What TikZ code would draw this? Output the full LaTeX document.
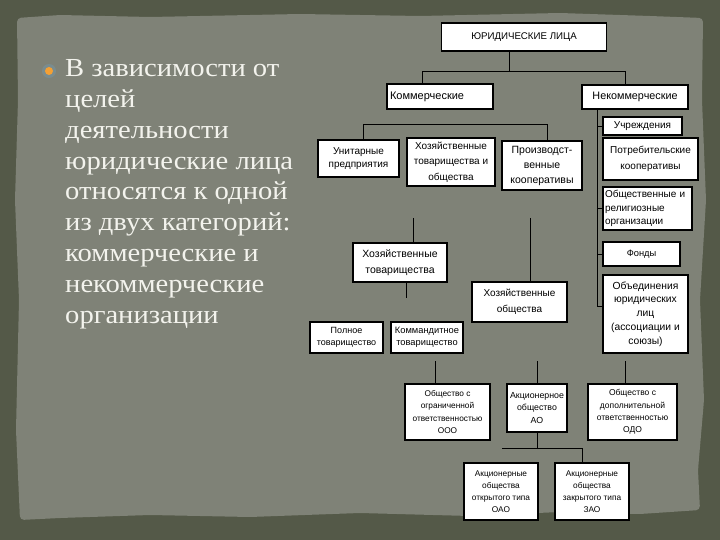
\documentclass[tikz,border=0pt]{standalone}
\usepackage{fontspec}
\setmainfont{Liberation Serif}[FakeStretch=1.1]
\newfontfamily\boxfont{Liberation Sans}
\usetikzlibrary{calc}

\definecolor{frame}{RGB}{84,89,72}
\definecolor{paper}{RGB}{127,130,119}
\definecolor{leadtext}{RGB}{243,243,237}
\definecolor{dot}{RGB}{244,160,52}
\definecolor{halo}{RGB}{118,148,160}

\tikzset{
  box/.style={draw=black, line width=1.1pt, fill=white, inner sep=1pt, align=center,
    font=\boxfont\fontsize{9}{12.5}\selectfont},
  heavy/.style={box, line width=2pt},
  fs/.style 2 args={font=\boxfont\fontsize{#1}{#2}\selectfont},
  link/.style={draw=black, line width=0.9pt},
  lead/.style={text=leadtext, font=\fontsize{26}{30}\selectfont, inner sep=0pt, anchor=base west},
}

\begin{document}
\begin{tikzpicture}[x=1pt, y=-1pt]
  \useasboundingbox (0,0) rectangle (720,540);

  % slide background
  \fill[frame] (0,0) rectangle (720,540);
  \fill[paper, rounded corners=4pt] (17,18) -- (60,15) -- (150,17) -- (300,14) -- (420,16)
    -- (560,13) -- (650,16) -- (703,18) -- (702,100) -- (706,200) -- (700,300) -- (704,400)
    -- (698,470) -- (700,510) -- (640,514) -- (560,512) -- (470,516) -- (360,513)
    -- (250,517) -- (150,515) -- (60,518) -- (20,520) -- (16,430) -- (19,300)
    -- (15,200) -- (18,100) -- cycle;

  % bullet text
  \fill[halo, opacity=0.6] (49,71) circle (7);
  \fill[dot] (49,71) circle (4);
  \foreach \ln [count=\i from 0] in {В зависимости от, целей, деятельности,
      юридические лица, относятся к одной, из двух категорий:, коммерческие и,
      некоммерческие, организации}
    \node[lead] (ln\i) at (65,{77+30.75*\i}) {\ln};

  % boxes
  \node[box, fs={9.7}{12}, minimum width=165, minimum height=28] (ul) at (524,37) {ЮРИДИЧЕСКИЕ ЛИЦА};
  \node[box, fs={11}{13}, minimum width=106, minimum height=25, text width=100, align=left,
    inner sep=3pt] (kom) at (440,96.5) {Коммерческие};
  \node[box, fs={10.8}{13}, minimum width=106, minimum height=24] (nek) at (635,97) {Некоммерческие};

  \node[box, fs={10}{13.5}, minimum width=81, minimum height=37] (unit) at (358.5,158.5) {Унитарные\\предприятия};
  \node[heavy, fs={10}{15.5}, minimum width=88, minimum height=48] (htio) at (451,162) {Хозяйственные\\товарищества и\\общества};
  \node[box, fs={10.5}{15}, minimum width=80, minimum height=49] (proiz) at (542,165.5) {Производст-\\венные\\кооперативы};

  \node[box, fs={10}{12}, minimum width=79, minimum height=18] (uchr) at (642.5,126) {Учреждения};
  \node[heavy, fs={10}{15.5}, minimum width=95, minimum height=42] (potr) at (650.5,159) {Потребительские\\кооперативы};
  \node[box, fs={10}{13.5}, minimum width=89, minimum height=43, text width=85, align=left] (obsh) at (647.5,208.5) {Общественные и\\религиозные\\организации};
  \node[box, fs={9.3}{12}, minimum width=77, minimum height=24] (fond) at (641.5,254) {Фонды};
  \node[heavy, fs={10.3}{13.8}, minimum width=85, minimum height=78] (obed) at (645.5,314) {Объединения\\юридических\\лиц\\(ассоциации и\\союзы)};

  \node[box, fs={10.5}{16}, minimum width=94, minimum height=39] (htov) at (400,262.5) {Хозяйственные\\товарищества};
  \node[box, fs={10}{16}, minimum width=95, minimum height=40] (hob) at (519.5,302) {Хозяйственные\\общества};
  \node[box, fs={9}{12.5}, minimum width=73, minimum height=31] (poln) at (346.5,337.5) {Полное\\товарищество};
  \node[box, fs={9.3}{12.5}, minimum width=72, minimum height=31] (komm) at (427,337.5) {Коммандитное\\товарищество};

  \node[box, fs={8.3}{12.2}, minimum width=85, minimum height=56] (ooo) at (447.5,412) {Общество с\\ограниченной\\ответственностью\\ООО};
  \node[box, fs={8.8}{12.5}, minimum width=60, minimum height=48] (ao) at (537,408) {Акционерное\\общество\\АО};
  \node[box, fs={8.5}{12.2}, minimum width=89, minimum height=56] (odo) at (632.5,412) {Общество с\\дополнительной\\ответственностью\\ОДО};
  \node[box, fs={8.3}{12}, minimum width=74, minimum height=57] (oao) at (501,491.5) {Акционерные\\общества\\открытого типа\\ОАО};
  \node[box, fs={8.3}{12}, minimum width=74, minimum height=57] (zao) at (592,491.5) {Акционерные\\общества\\закрытого типа\\ЗАО};

  % bends and free ends
  \coordinate (t1) at (509,71);
  \coordinate (b1) at (422,71);
  \coordinate (b2) at (625,71);
  \coordinate (b3) at (363,124);
  \coordinate (b4) at (547,124);
  \coordinate (s1) at (413,218);
  \coordinate (s2) at (406,298);
  \coordinate (s3) at (530,218);
  \coordinate (sp) at (597,306);
  \coordinate (s4) at (435,361);
  \coordinate (s5) at (537,361);
  \coordinate (s6) at (625,361);
  \coordinate (b5) at (502,448);
  \coordinate (b6) at (582,448);

  % connectors
  \draw[link] (ul.south -| t1) -- (t1);
  \draw[link] (kom.north -| b1) |- (b2) -- (nek.north -| b2);
  \draw[link] (unit.north -| b3) |- (b4) -- (proiz.north -| b4);
  \draw[link] (s1) -- (htov.north -| s1);
  \draw[link] (htov.south -| s2) -- (s2);
  \draw[link] (s3) -- (hob.north -| s3);
  \draw[link] (nek.south -| sp) -- (sp) -- (obed.west |- sp);
  \foreach \b in {uchr, obsh, fond}
    \draw[link] (sp |- \b.west) -- (\b.west);
  \draw[link] (s4) -- (ooo.north -| s4);
  \draw[link] (s5) -- (ao.north -| s5);
  \draw[link] (s6) -- (odo.north -| s6);
  \draw[link] (ao.south) -- (ao.south |- b5);
  \draw[link] (b5) -- (b6) -- (zao.north -| b6);
\end{tikzpicture}
\end{document}
